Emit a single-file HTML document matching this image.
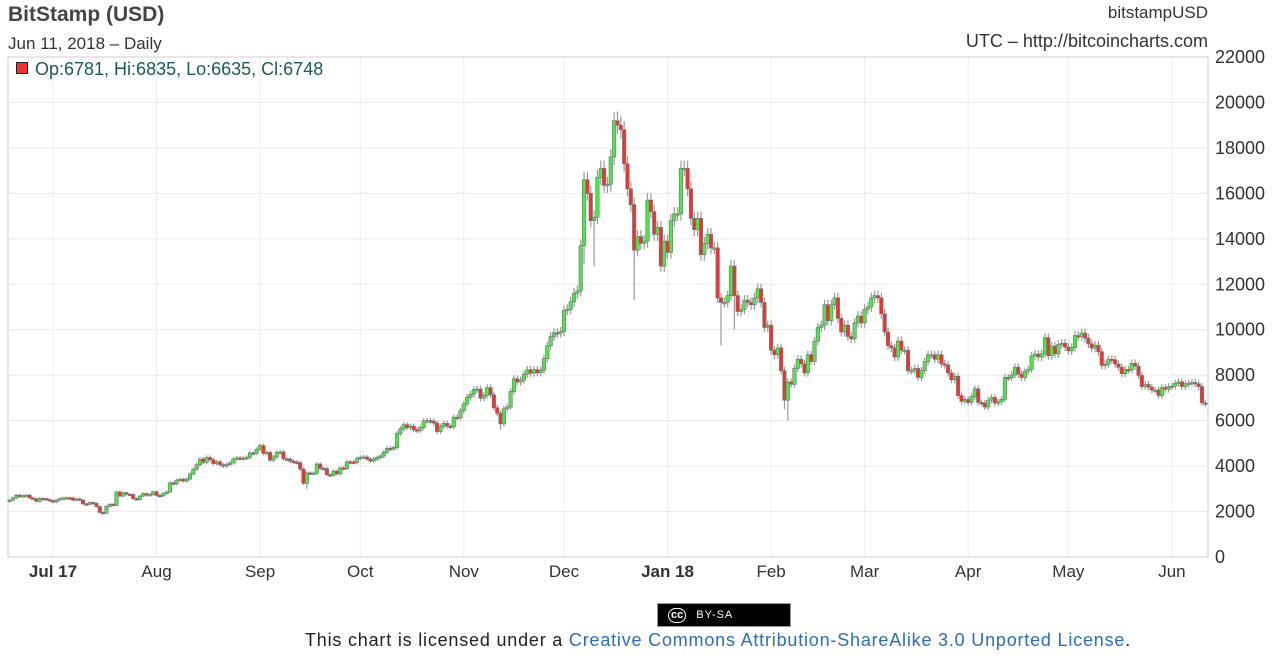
<!DOCTYPE html>
<html><head><meta charset="utf-8"><style>
body{margin:0;background:#fff;width:1275px;height:656px;overflow:hidden;font-family:"Liberation Sans",sans-serif}
svg{position:absolute;left:0;top:0}
</style></head><body>
<svg id="c" width="1275" height="656"></svg>
<script>
const months=["Jul 17","Aug","Sep","Oct","Nov","Dec","Jan 18","Feb","Mar","Apr","May","Jun"];
const monthDay=[0,31,62,92,123,153,184,215,243,274,304,335];
const yTicks=[0,2000,4000,6000,8000,10000,12000,14000,16000,18000,20000,22000];
const firstOpen=2450;
const closes=[
2500,2600,2720,2660,2700,2720,2600,2560,2450,2580,2570,2530,2480,
2420,2500,2570,2600,2610,2600,2500,2560,2500,2340,2320,2400,2360,2220,1960,1930,2230,2320,2280,2860,2680,2830,2760,2750,2570,2530,2680,2790,2720,2750,2870,
2710,2690,2790,2860,3260,3220,3380,3420,3340,3430,3650,3860,4060,4310,4170,4380,4280,4110,4190,4060,4000,4080,4140,4310,4360,4340,4350,4390,4580,4570,4740,
4900,4560,4600,4260,4400,4600,4620,4320,4310,4220,4180,4150,3870,3240,3700,3690,3690,4090,3900,3890,3620,3600,3780,3660,3920,3890,4190,4180,4160,4330,
4390,4400,4310,4220,4320,4370,4440,4610,4780,4760,4820,5430,5640,5820,5690,5760,5600,5570,5700,5990,6000,5980,5890,5520,5740,5880,5760,5730,6150,6130,6440,
6740,7030,7160,7370,7390,6990,7110,7450,7140,6570,6320,5860,6520,6600,7280,7840,7700,7780,8040,8240,8090,8240,8110,8220,8730,9290,9700,9870,9850,9920,
10850,10900,11230,11600,11700,13700,16600,16000,14800,14950,16700,17100,16350,16400,17600,19200,19000,18800,17300,16200,15500,13500,14100,13800,13900,15700,15200,14200,14500,12800,13900,
13400,14800,15100,15100,17100,17100,16200,14900,14400,14900,13300,13800,14200,13600,13600,11400,11200,11200,11500,12800,11500,10800,10900,11300,11200,11100,11400,11800,11200,10100,10200,
9100,8900,9200,8200,6900,7700,7600,8300,8700,8500,8100,8900,8600,9500,10100,10200,11100,10400,11100,11400,10500,9900,10200,9700,9600,10300,10600,10300,
10900,11000,11400,11500,11400,10700,9900,9300,9200,8800,9500,9100,9100,8200,8200,8300,7900,8200,8600,8900,8900,8700,8900,8500,8450,8100,7800,7950,7100,6850,6930,
6800,7050,7400,6800,6780,6600,6900,7020,6770,6830,6940,7900,7890,8010,8350,8050,7900,8170,8260,8850,8930,8800,8940,9650,8860,9280,8940,9350,9400,9240,
9070,9220,9740,9700,9850,9630,9380,9190,9320,9030,8430,8480,8700,8680,8490,8350,8070,8250,8230,8520,8400,7990,7500,7590,7470,7350,7350,7110,7460,7380,7500,
7520,7640,7710,7500,7620,7650,7680,7620,7500,6780,6748];
const spikeIdx=[89,147,172,175,182,187,213,217,233,232];
const spikeVal=[3000,5600,12900,12800,19600,11300,9300,10000,6000,6500];
const spikeIsLow=[1,1,1,1,0,1,1,1,1,1];
const startDay=-13;
const svg=document.getElementById('c');const NS='http://www.w3.org/2000/svg';
function mk(t,a,p){const e=document.createElementNS(NS,t);for(const k in a)e.setAttribute(k,a[k]);(p||svg).appendChild(e);return e;}
const X0=53,DX=3.34,L=8,R=1208,T=57,B=557;
const xs=d=>X0+d*DX;
const ys=v=>B-(v/22000)*(B-T);
yTicks.forEach(v=>{const g=mk('line',{x1:L,x2:R,y1:ys(v),y2:ys(v),stroke:'#ececec'});


const t=mk('text',{x:1215,y:ys(v)+6,'font-size':18,fill:'#333'});t.textContent=v;

});
months.forEach((m,i)=>{const x=xs(monthDay[i]);const g=mk('line',{x1:x,x2:x,y1:T,y2:B,stroke:'#ececec'});


const t=mk('text',{x:x,y:577,'font-size':17,fill:'#333','text-anchor':'middle','font-weight':m.includes(' ')?'bold':'normal'});t.textContent=m;

});
const fr=mk('rect',{x:L,y:T,width:R-L,height:B-T,fill:'none',stroke:'#cfcfcf'});


let prev=firstOpen;
closes.forEach((c,i)=>{const o=prev;prev=c;const d=startDay+i;const x=xs(d);
let hi=Math.max(o,c)*1.02,lo=Math.min(o,c)*0.98;
const k=spikeIdx.indexOf(i);if(k>=0){if(spikeIsLow[k])lo=spikeVal[k];else hi=spikeVal[k];}
const w=mk('line',{x1:x,x2:x,y1:ys(hi),y2:ys(lo),stroke:'#999','stroke-width':1.2});


const top=ys(Math.max(o,c)),bot=ys(Math.min(o,c));
const b=mk('rect',{x:x-1.7,y:top,width:3.4,height:Math.max(1.5,bot-top),fill:c>=o?'#44ee44':'#ee3333',stroke:'#777','stroke-width':0.7});

});
</script>
<div style="position:absolute;left:8px;top:3px;font-size:21px;font-weight:bold;color:#444">BitStamp (USD)</div>
<div style="position:absolute;left:8px;top:34px;font-size:17px;color:#333">Jun 11, 2018 – Daily</div>
<div style="position:absolute;right:67px;top:3px;font-size:17px;color:#333">bitstampUSD</div>
<div style="position:absolute;right:67px;top:31px;font-size:18px;color:#333">UTC – http://bitcoincharts.com</div>
<div style="position:absolute;left:16px;top:59px;font-size:18px;color:#1a5a5a;white-space:nowrap"><span style="display:inline-block;width:10px;height:10px;background:#ee3333;border:1px solid #222;margin-right:7px;vertical-align:1px"></span>Op:6781, Hi:6835, Lo:6635, Cl:6748</div>
<div style="position:absolute;left:657px;top:603px;width:134px;height:24px;background:#000;border:1px solid #999;box-sizing:border-box;color:#fff;font-size:11px;line-height:22px"><span style="display:inline-block;margin-left:10px;border:1.5px solid #fff;border-radius:9px;padding:0 2px;line-height:13px;font-weight:bold">cc</span><span style="margin-left:10px;letter-spacing:1px">BY-SA</span></div>
<div style="position:absolute;left:305px;top:630px;font-size:18px;letter-spacing:0.8px;color:#222;white-space:nowrap">This chart is licensed under a <span style="color:#2a6ebb">Creative Commons Attribution-ShareAlike 3.0 Unported License</span>.</div>
</body></html>
